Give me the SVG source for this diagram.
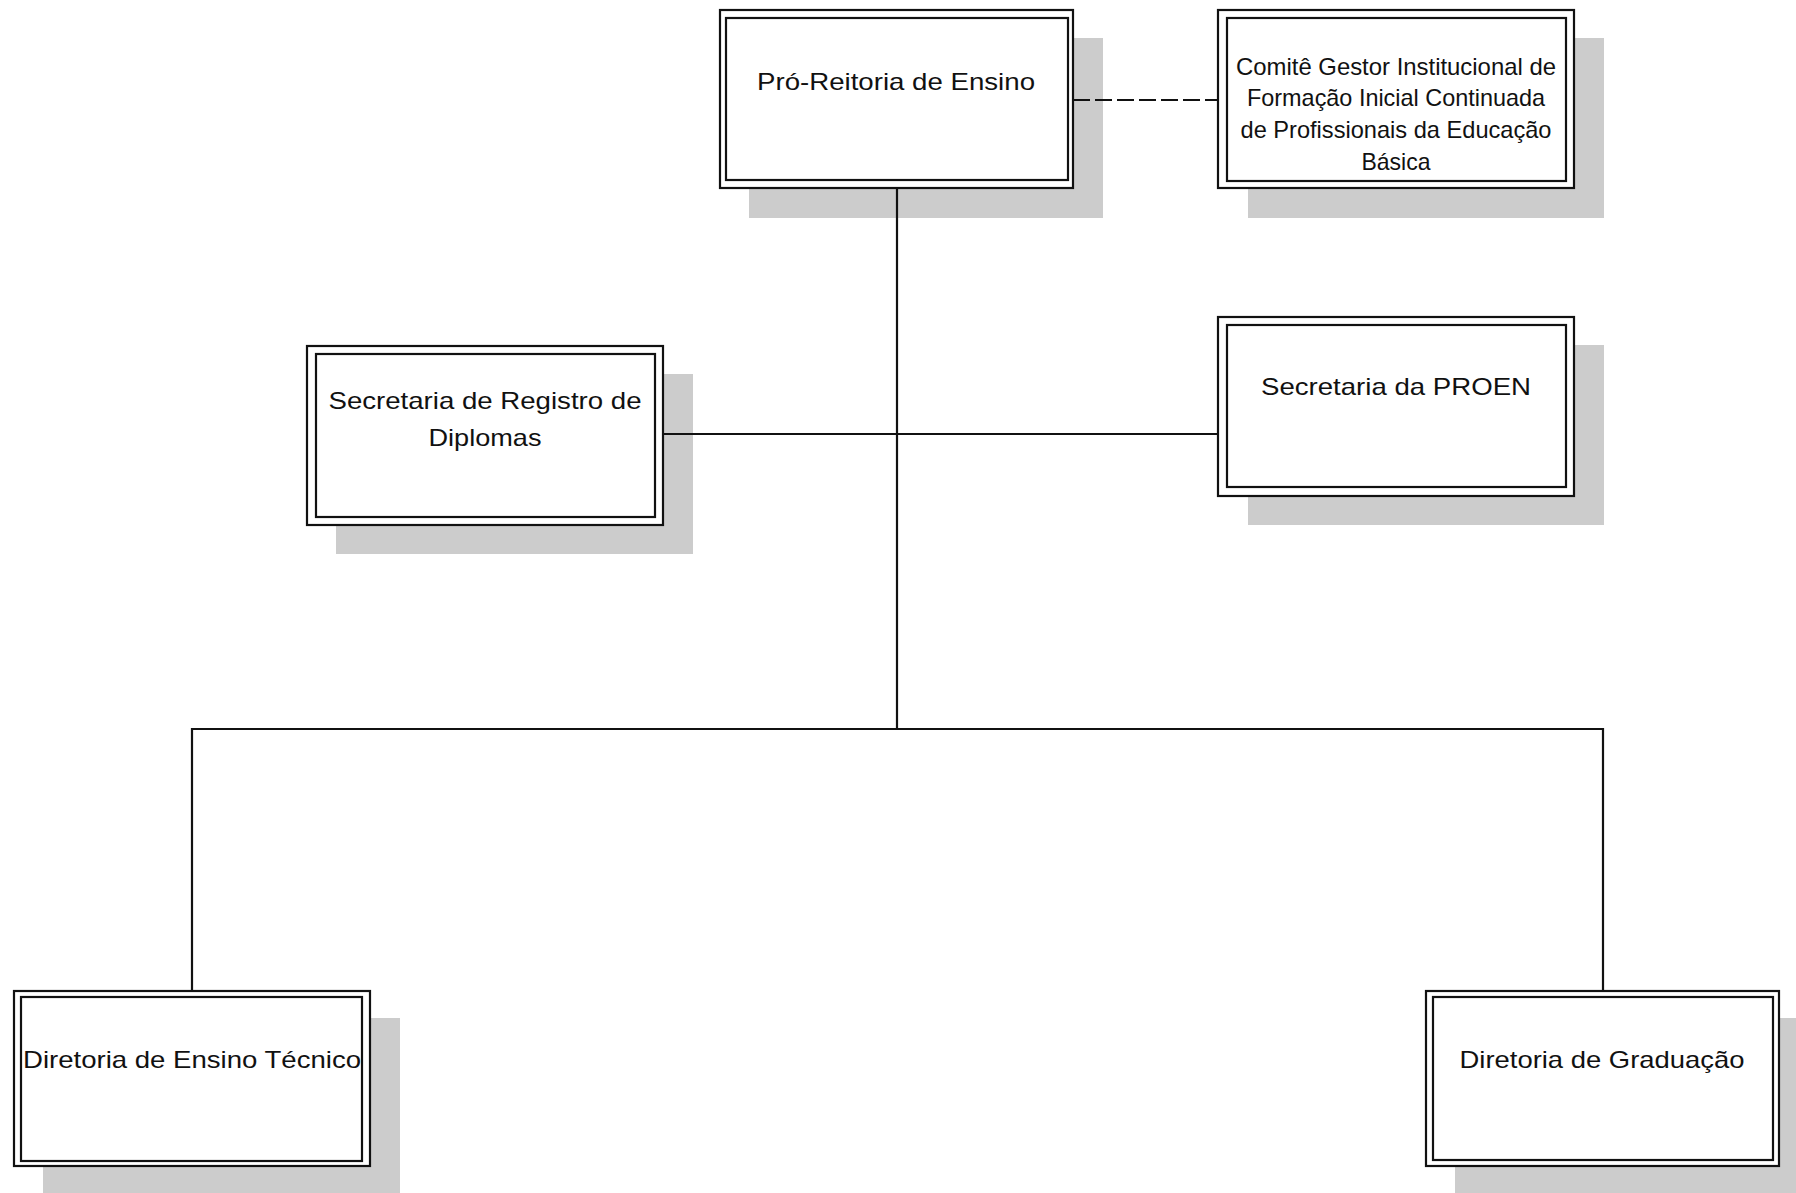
<svg xmlns="http://www.w3.org/2000/svg" width="1796" height="1193" viewBox="0 0 1796 1193">
  <style>
    .shadow { fill: #cccccc; stroke: none; }
    .outer { fill: #ffffff; stroke: #111111; stroke-width: 2.2; }
    .inner { fill: #ffffff; stroke: #111111; stroke-width: 2.2; }
    .label { font-family: "Liberation Sans", Arial, sans-serif; font-size: 24px; fill: #111111; text-anchor: middle; }
    .link { fill: none; stroke: #111111; stroke-width: 2.2; }
    .dashed { stroke-dasharray: 17 5; }
  </style>
  <rect width="1796" height="1193" fill="#ffffff"/>

  <g id="pro-reitoria">
    <rect class="shadow" x="749" y="38" width="354" height="180"/>
    <rect class="outer" x="720" y="10" width="353" height="178"/>
    <rect class="inner" x="726" y="18" width="342" height="162"/>
    <text class="label" x="896" y="90" textLength="278" lengthAdjust="spacingAndGlyphs">Pró-Reitoria de Ensino</text>
  </g>

  <g id="comite-gestor">
    <rect class="shadow" x="1248" y="38" width="356" height="180"/>
    <rect class="outer" x="1218" y="10" width="356" height="178"/>
    <rect class="inner" x="1227" y="18" width="339" height="163"/>
    <text class="label" x="1396" y="75" textLength="320" lengthAdjust="spacingAndGlyphs">Comitê Gestor Institucional de</text>
    <text class="label" x="1396" y="106" textLength="298" lengthAdjust="spacingAndGlyphs">Formação Inicial Continuada</text>
    <text class="label" x="1396" y="138" textLength="311" lengthAdjust="spacingAndGlyphs">de Profissionais da Educação</text>
    <text class="label" x="1396" y="170" textLength="69" lengthAdjust="spacingAndGlyphs">Básica</text>
  </g>

  <g id="secretaria-registro">
    <rect class="shadow" x="336" y="374" width="357" height="180"/>
    <rect class="outer" x="307" y="346" width="356" height="179"/>
    <rect class="inner" x="316" y="354" width="339" height="163"/>
    <text class="label" x="485" y="409" textLength="313" lengthAdjust="spacingAndGlyphs">Secretaria de Registro de</text>
    <text class="label" x="485" y="446" textLength="113" lengthAdjust="spacingAndGlyphs">Diplomas</text>
  </g>

  <g id="secretaria-proen">
    <rect class="shadow" x="1248" y="345" width="356" height="180"/>
    <rect class="outer" x="1218" y="317" width="356" height="179"/>
    <rect class="inner" x="1227" y="325" width="339" height="162"/>
    <text class="label" x="1396" y="395" textLength="270" lengthAdjust="spacingAndGlyphs">Secretaria da PROEN</text>
  </g>

  <g id="diretoria-tecnico">
    <rect class="shadow" x="43" y="1018" width="357" height="180"/>
    <rect class="outer" x="14" y="991" width="356" height="175"/>
    <rect class="inner" x="21" y="997" width="341" height="164"/>
    <text class="label" x="192" y="1068" textLength="338" lengthAdjust="spacingAndGlyphs">Diretoria de Ensino Técnico</text>
  </g>

  <g id="diretoria-graduacao">
    <rect class="shadow" x="1455" y="1018" width="357" height="180"/>
    <rect class="outer" x="1426" y="991" width="353" height="175"/>
    <rect class="inner" x="1433" y="997" width="340" height="163"/>
    <text class="label" x="1602" y="1068" textLength="285" lengthAdjust="spacingAndGlyphs">Diretoria de Graduação</text>
  </g>

  <!-- connectors, drawn last so they sit on top of the drop shadows -->
  <g id="connectors">
    <line class="link" x1="897" y1="188" x2="897" y2="729"/>
    <line class="link" x1="663" y1="434" x2="1218" y2="434"/>
    <polyline class="link" points="192,991 192,729 1603,729 1603,991"/>
    <line class="link dashed" x1="1073" y1="100" x2="1218" y2="100"/>
  </g>
</svg>
